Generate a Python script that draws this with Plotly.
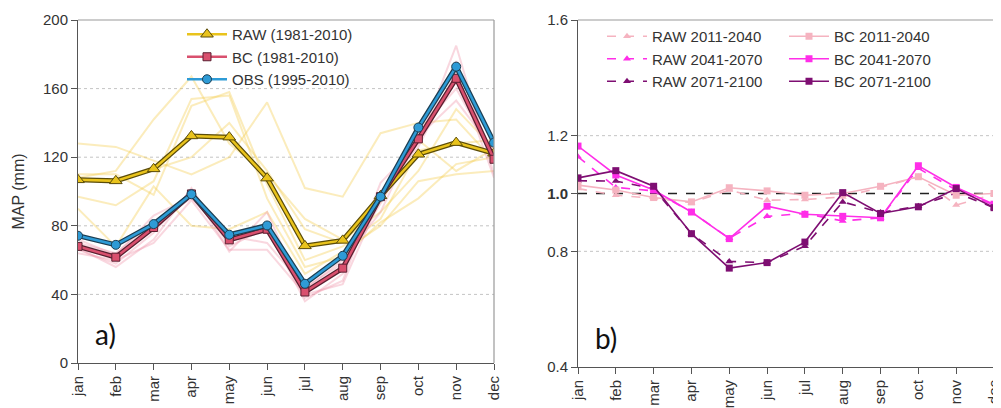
import plotly.graph_objects as go

months = ["jan", "feb", "mar", "apr", "may", "jun", "jul", "aug", "sep", "oct", "nov", "dec"]
xi = list(range(12))

# Panel a) mean monthly precipitation (mm)
raw_hist = [106.8, 106.2, 113.2, 132.4, 131.7, 107.8, 68.3, 71.5, 97.5, 121.7, 128.5, 122.3]
bc_hist = [68.0, 61.7, 79.0, 98.6, 71.8, 78.0, 41.4, 55.3, 97.0, 130.7, 166.0, 118.8]
obs = [74.2, 68.9, 81.0, 98.4, 74.8, 80.2, 46.2, 62.5, 97.0, 137.3, 172.8, 128.5]

raw_members = [
    [128, 126, 118, 110, 120, 152, 102, 97, 134, 140, 142, 118],
    [108, 112, 142, 167, 128, 110, 84, 72, 88, 112, 148, 125],
    [97, 92, 106, 154, 156, 96, 56, 62, 82, 96, 116, 120],
    [90, 68, 103, 80, 78, 88, 52, 65, 80, 106, 110, 112],
    [110, 110, 98, 150, 158, 104, 60, 68, 84, 124, 128, 130],
    [107, 106, 113, 120, 140, 112, 78, 70, 94, 130, 112, 125],
]
bc_members = [
    [66, 58, 76, 101, 65, 88, 38, 48, 105, 128, 185, 110],
    [70, 64, 82, 96, 74, 70, 44, 58, 93, 132, 153, 124],
    [67, 56, 72, 102, 68, 79, 36, 52, 100, 126, 170, 108],
    [72, 63, 86, 97, 76, 76, 43, 60, 88, 135, 160, 120],
    [64, 60, 70, 95, 66, 66, 40, 46, 96, 129, 176, 117],
]

# Panel b) change factors
raw_2011 = [1.017, 0.994, 0.983, 0.968, 1.012, 0.977, 0.979, 0.988, 1.021, 1.058, 0.960, 0.998]
raw_2041 = [1.127, 1.021, 1.009, 0.936, 0.845, 0.921, 0.931, 0.905, 0.916, 1.087, 1.012, 0.960]
raw_2071 = [1.044, 1.043, 1.017, 0.861, 0.765, 0.761, 0.818, 0.971, 0.934, 0.956, 1.002, 0.951]
bc_2011 = [1.029, 1.012, 0.986, 0.971, 1.020, 1.009, 0.994, 1.000, 1.025, 1.058, 0.994, 1.000]
bc_2041 = [1.164, 1.064, 1.012, 0.936, 0.844, 0.956, 0.928, 0.921, 0.916, 1.096, 1.021, 0.963]
bc_2071 = [1.054, 1.079, 1.025, 0.861, 0.742, 0.761, 0.832, 1.003, 0.931, 0.954, 1.017, 0.951]

left_ticks = [0, 40, 80, 120, 160, 200]
left_grid = [40, 80, 120, 160]
right_ticks = [0.4, 0.8, 1.0, 1.2, 1.6]
right_ticktext = ["0.4", "0.8", "<b>1.0</b>", "1.2", "1.6"]
right_grid = [0.8, 1.2]
ref_line = 1.0

FONT = "Liberation Sans, Arial, sans-serif"
OFF = 8  # page body margin
W, H = 1001 - OFF, 408 - OFF


def px(p):
    return (p - OFF) / W


def py(q):
    return 1 - (q - OFF) / H


fig = go.Figure()

# ensemble members (light)
for m in raw_members:
    fig.add_trace(go.Scatter(x=xi, y=m, mode="lines", line=dict(color="rgba(245,205,80,0.38)", width=2),
                             showlegend=False, hoverinfo="skip", xaxis="x", yaxis="y"))
for m in bc_members:
    fig.add_trace(go.Scatter(x=xi, y=m, mode="lines", line=dict(color="rgba(240,150,170,0.38)", width=2),
                             showlegend=False, hoverinfo="skip", xaxis="x", yaxis="y"))

main = [
    ("RAW (1981-2010)", raw_hist, "#E9C31C", "#5b4c08", "triangle-up", 11),
    ("BC (1981-2010)", bc_hist, "#D9506E", "#5a1f30", "square", 8),
    ("OBS (1995-2010)", obs, "#2E9BD6", "#1d3e52", "circle", 9),
]
for name, vals, col, dark, sym, sz in main:
    fig.add_trace(go.Scatter(x=xi, y=vals, mode="lines", line=dict(color=dark, width=5),
                             showlegend=False, hoverinfo="skip", xaxis="x", yaxis="y"))
    fig.add_trace(go.Scatter(x=xi, y=vals, mode="lines+markers", name=name,
                             line=dict(color=col, width=2.5),
                             marker=dict(symbol=sym, size=sz, color=col, line=dict(color=dark, width=1)),
                             xaxis="x", yaxis="y", legend="legend"))

LP = "#F5B3C0"
MG = "#FF2EE8"
DP = "#7E0E72"
right_series = [
    ("RAW 2011-2040", raw_2011, LP, "dash", "triangle-up", "legend2"),
    ("RAW 2041-2070", raw_2041, MG, "dash", "triangle-up", "legend2"),
    ("RAW 2071-2100", raw_2071, DP, "dash", "triangle-up", "legend2"),
    ("BC 2011-2040", bc_2011, LP, "solid", "square", "legend3"),
    ("BC 2041-2070", bc_2041, MG, "solid", "square", "legend3"),
    ("BC 2071-2100", bc_2071, DP, "solid", "square", "legend3"),
]
for name, vals, col, dash, sym, lg in right_series:
    fig.add_trace(go.Scatter(x=xi, y=vals, mode="lines+markers", name=name,
                             line=dict(color=col, width=1.6, dash=dash),
                             marker=dict(symbol=sym, size=7, color=col),
                             xaxis="x2", yaxis="y2", legend=lg))

xl = [px(78), px(494)]
xr = [px(578), px(994)]
yl = [py(363), py(20)]
yr = [py(367), py(20)]

axis_common = dict(showline=True, linecolor="#555", linewidth=1, ticks="outside", ticklen=6,
                   tickcolor="#555", tickfont=dict(family=FONT, size=15, color="#333"), zeroline=False,
                   automargin=False, ticklabeloverflow="allow")

leg_common = dict(xanchor="left", yanchor="top", bgcolor="rgba(0,0,0,0)",
                  font=dict(family=FONT, size=15, color="#333"), tracegroupgap=0, itemwidth=40)

fig.update_layout(
    width=W, height=H, margin=dict(l=0, r=0, t=0, b=0),
    paper_bgcolor="white", plot_bgcolor="white",
    font=dict(family=FONT, color="#333"),
    xaxis=dict(domain=xl, range=[0, 11], tickvals=xi, ticktext=months, tickangle=-90,
               showgrid=False, anchor="y", **axis_common),
    yaxis=dict(domain=yl, range=[0, 200], tickvals=left_ticks, showgrid=False, anchor="x",
               title=dict(text="MAP (mm)", font=dict(family=FONT, size=16, color="#333"), standoff=14),
               **axis_common),
    xaxis2=dict(domain=xr, range=[0, 11], tickvals=xi, ticktext=months, tickangle=-90,
                showgrid=False, anchor="y2", **axis_common),
    yaxis2=dict(domain=yr, range=[0.4, 1.6], tickvals=right_ticks, ticktext=right_ticktext,
                showgrid=False, anchor="x2", **axis_common),
    legend=dict(x=px(182), y=py(18), **leg_common),
    legend2=dict(x=px(602), y=py(20), **leg_common),
    legend3=dict(x=px(784), y=py(20), **leg_common),
    showlegend=True,
)

shapes = []
for g in left_grid:
    shapes.append(dict(type="line", xref="x domain", yref="y", x0=0, x1=1, y0=g, y1=g,
                       line=dict(color="#c4c4c4", width=1, dash="dot"), layer="below"))
for g in right_grid:
    shapes.append(dict(type="line", xref="x2 domain", yref="y2", x0=0, x1=1, y0=g, y1=g,
                       line=dict(color="#c4c4c4", width=1, dash="dot"), layer="below"))
shapes.append(dict(type="line", xref="x2 domain", yref="y2", x0=0, x1=1, y0=ref_line, y1=ref_line,
                   line=dict(color="#222", width=1.6, dash="dash"), layer="below"))
# light frame (top/right)
for xa, ya in (("x", "y"), ("x2", "y2")):
    shapes.append(dict(type="line", xref=f"{xa} domain", yref=f"{ya} domain", x0=0, x1=1, y0=1, y1=1,
                       line=dict(color="#999", width=1.2)))
    shapes.append(dict(type="line", xref=f"{xa} domain", yref=f"{ya} domain", x0=1, x1=1, y0=0, y1=1,
                       line=dict(color="#999", width=1.2)))
fig.update_layout(shapes=shapes)

fig.add_annotation(xref="x domain", yref="y domain", x=0.035, y=0.03, xanchor="left", yanchor="bottom",
                   text="a)", showarrow=False, font=dict(family="Lato, Carlito, sans-serif", size=28, color="#111"))
fig.add_annotation(xref="x2 domain", yref="y2 domain", x=0.035, y=0.03, xanchor="left", yanchor="bottom",
                   text="b)", showarrow=False, font=dict(family="Lato, Carlito, sans-serif", size=28, color="#111"))

fig.write_html("out.html")
